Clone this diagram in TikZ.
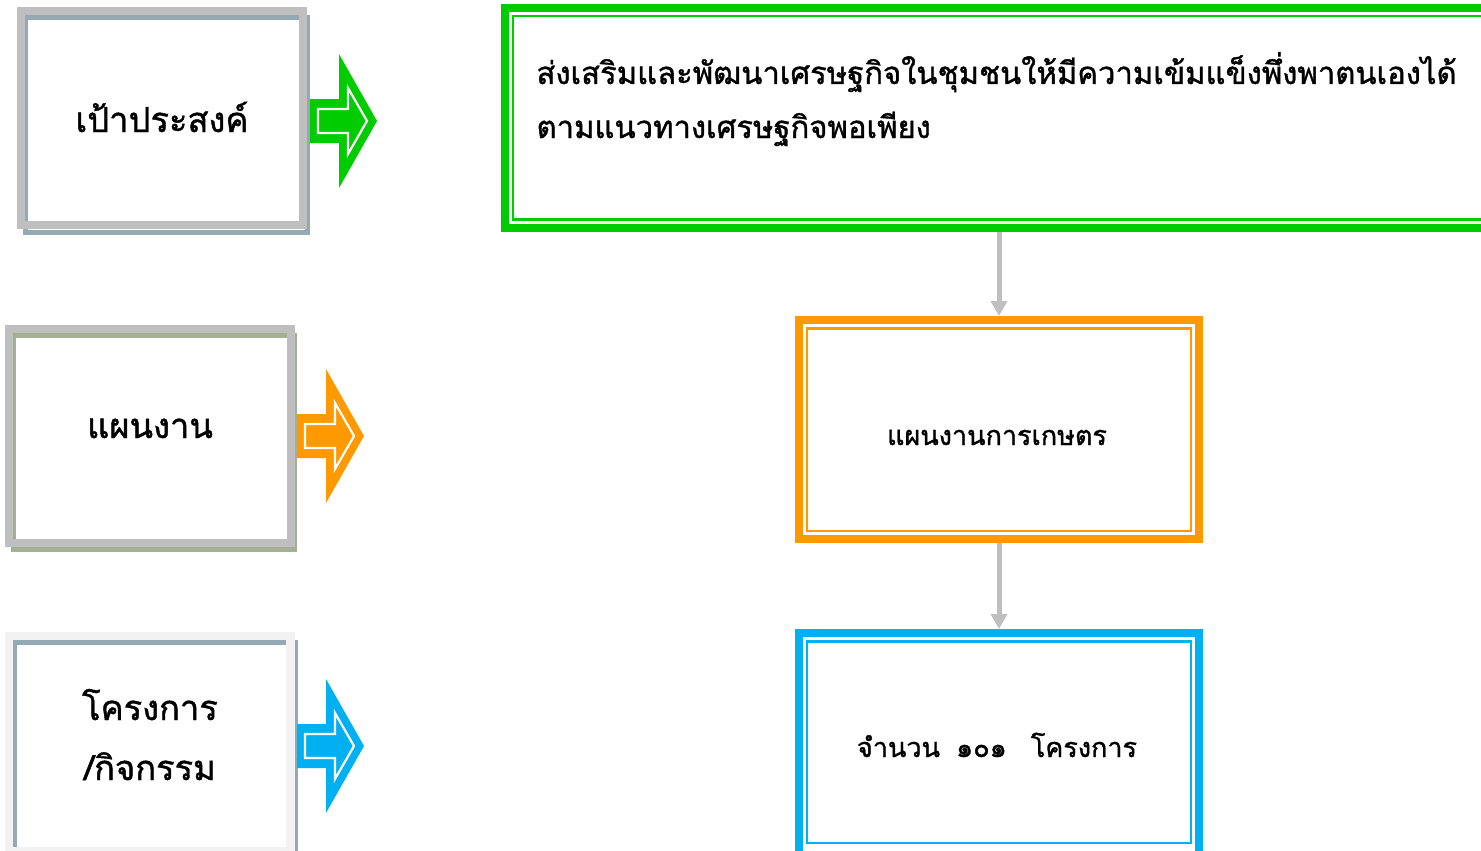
\documentclass[tikz,border=0pt]{standalone}
\usepackage{fontspec}
\newfontfamily\thaifont[Script=Thai,FakeBold=1.2]{Loma}
\definecolor{cgreen}{HTML}{00CC00}
\definecolor{corange}{HTML}{FF9900}
\definecolor{cblue}{HTML}{00B0F0}
\definecolor{cgray}{HTML}{BFBFBF}
\definecolor{clight}{HTML}{F2F2F2}
\definecolor{cslate}{HTML}{93AAB4}
\definecolor{colive}{HTML}{A5AF91}
\usetikzlibrary{arrows.meta}
\tikzset{
  boxthick/.style={draw=#1, line width=8pt, inner sep=0pt},
  boxthin/.style={draw=#1, line width=2.5pt},
  lefttext/.style={font=\thaifont\fontsize{34.5}{38}\selectfont, anchor=base},
  righttext/.style={font=\thaifont\fontsize{27}{30}\selectfont, anchor=base},
  goaltext/.style={font=\thaifont\fontsize{31}{34}\selectfont, anchor=base west},
  conn/.style={draw=cgray, line width=5pt, -{Triangle[length=15pt,width=16pt]}},
}
% fat arrow: #1 = colour, #2 = left x, #3 = centre y
\newcommand{\fatarrowshape}[3]{%
  \fill[#1] (#2,#3-22) -- ++(29,0) -- ++(0,-45) -- (#2+67,#3) -- (#2+29,#3+67) -- ++(0,-45) -- (#2,#3+22) -- cycle;
  \draw[white, line width=2.2pt, line join=miter] (#2+8,#3-12) -- (#2+38,#3-12) -- (#2+38,#3-33) -- (#2+57,#3) -- (#2+38,#3+33) -- (#2+38,#3+12) -- (#2+8,#3+12) -- cycle;
}
\begin{document}
\begin{tikzpicture}[x=1pt,y=-1pt]
\useasboundingbox (0,0) rectangle (1481,851);
\clip (0,0) rectangle (1481,851);
% ---- left box 1
\draw[cslate, line width=5pt] (25.5,17.5) rectangle (307.5,232);
\draw[cgray, line width=8.5pt] (21,11) rectangle (303,225);
\node[lefttext] (t1) at (162,132) {เป้าประสงค์};
% ---- left box 2
\draw[colive, line width=5pt] (13,335.5) rectangle (294.5,549.5);
\draw[cgray, line width=8.5pt] (9,329) rectangle (291,543);
\node[lefttext] (t2) at (150,438) {แผนงาน};
% ---- left box 3
\draw[cslate, line width=5pt] (14,642.5) rectangle (295,870);
\draw[clight, line width=8.5pt] (9,636) rectangle (290.5,851);
\node[lefttext] (t3a) at (150,720) {โครงการ};
\node[lefttext] (t3b) at (150,780) {/กิจกรรม};
% ---- fat arrows
\fatarrowshape{cgreen}{310}{121}
\fatarrowshape{corange}{297}{436}
\fatarrowshape{cblue}{297}{746}
% ---- right boxes
\node[boxthick=cgreen, minimum width=985pt, minimum height=220pt] (goal) at (997.5,118) {};
\draw[boxthin=cgreen] (513,16) rectangle (1495,219.5);
\node[goaltext] (g1) at (533,84) {ส่งเสริมและพัฒนาเศรษฐกิจในชุมชนให้มีความเข้มแข็งพึ่งพาตนเองได้};
\node[goaltext] (g2) at (533,138) {ตามแนวทางเศรษฐกิจพอเพียง};
\node[boxthick=corange, minimum width=400pt, minimum height=219pt] (plan) at (999,429.5) {};
\draw[boxthin=corange] (807,328.5) rectangle (1191,531);
\node[righttext] (p1) at (997,445) {แผนงานการเกษตร};
\node[boxthick=cblue, minimum width=400pt, minimum height=222pt] (proj) at (999,744) {};
\draw[boxthin=cblue] (807,641.5) rectangle (1191,843);
\node[righttext] (q1) at (997,757) {จำนวน\hspace{16pt}๑๐๑\hspace{24pt}โครงการ};
% ---- connectors
\draw[conn] (goal.south -| plan.north) -- (plan.north);
\draw[conn] (plan.south) -- (proj.north);
\end{tikzpicture}
\end{document}
